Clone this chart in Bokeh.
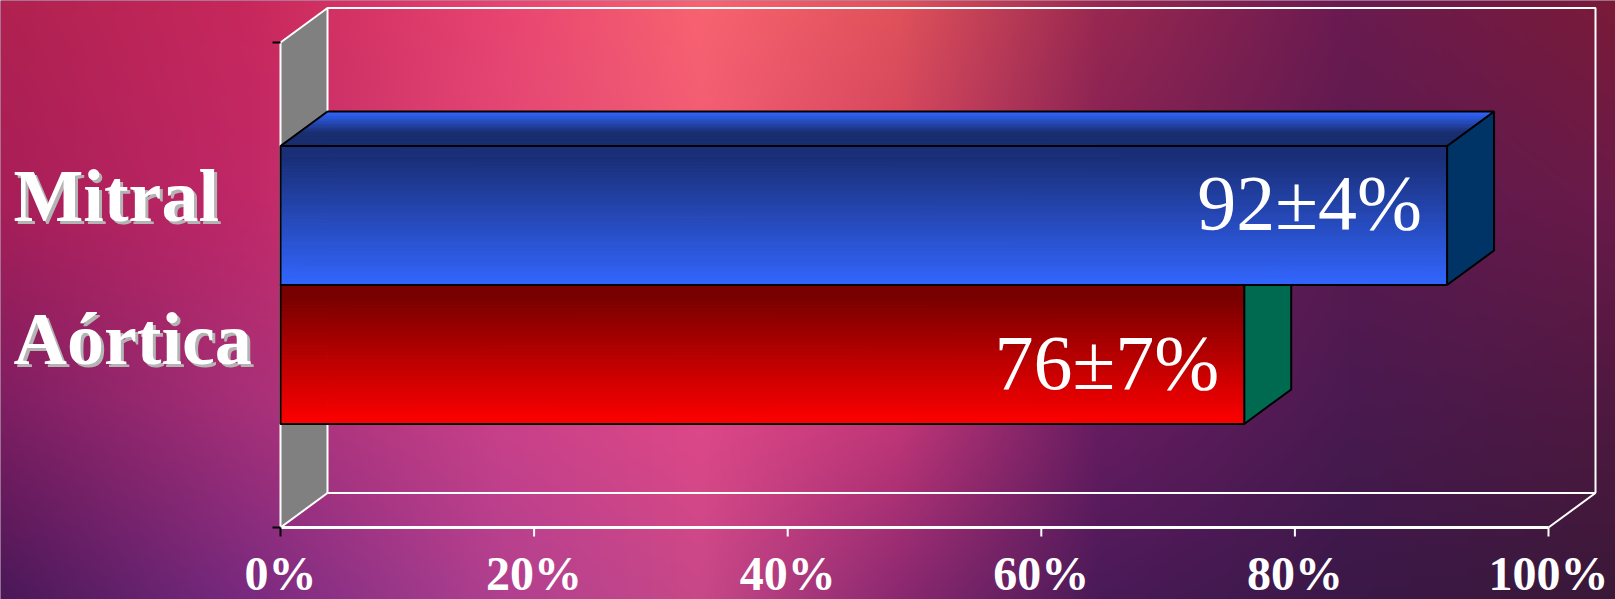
import numpy as np
from bokeh.plotting import figure
from bokeh.models import Range1d
from bokeh.embed import file_html
from bokeh.resources import INLINE
from bokeh.core.properties import value

# ---------------- data ----------------
categories = ["Mitral", "Aórtica"]
values = [92, 76]
value_labels = ["92±4%", "76±7%"]
tick_values = [0, 20, 40, 60, 80, 100]
tick_labels = ["0%", "20%", "40%", "60%", "80%", "100%"]

# ---------------- styles / layout ----------------
W, H = 1615, 599
X0_PX, X100_PX = 280, 1548       # front plane: 0% and 100%
Y0_PX, Y1_PX = 527, 42           # front plane: floor and top
SX = (X100_PX - X0_PX) / 100.0   # px per %
SY = float(Y0_PX - Y1_PX)        # px per y unit
x_start, x_end = -X0_PX / SX, (W - X0_PX) / SX
y_start, y_end = -(H - Y0_PX) / SY, Y0_PX / SY
DX, DY = 47 / SX, 34.5 / SY      # 3D depth offset
BAR_H = 139 / SY
CAT_CENTER = 0.5
BASE_FIX = 0.38                  # baseline correction (em)
TICK_LABEL_PX = 64               # baseline distance below the floor

front_top = ["#1a2f78", "#780000"]
front_bot = ["#3366ff", "#ff0000"]
side_col = ["#003366", "#006a50"]
top_back = ["#1a2f70", "#780000"]
top_front = ["#3366ff", "#ff0000"]
value_dy_px = [17, 38]
cat_dy_px = [9, 13]

FONT = value("Liberation Serif")

def h2r(h):
    return np.array([int(h[i:i + 2], 16) for i in (1, 3, 5)], float)

def mix(c1, c2, t):
    a, b = h2r(c1), h2r(c2)
    c = a + (b - a) * t
    return "#%02x%02x%02x" % tuple(int(round(v)) for v in c)

p = figure(width=W, height=H, x_range=Range1d(x_start, x_end), y_range=Range1d(y_start, y_end),
           output_backend="svg", toolbar_location=None, min_border=0,
           x_axis_location=None, y_axis_location=None, outline_line_color=None,
           background_fill_color="#5a1a50", border_fill_color="#5a1a50")
p.xgrid.visible = False
p.ygrid.visible = False

# ---------------- background gradient ----------------
gx = np.array([0, 250, 500, 700, 900, 1100, 1350, 1615], float)
gy = np.array([0, 200, 400, 599], float)
rows = [
    ["#b02250", "#c8285c", "#e84470", "#f8636f", "#e0525a", "#9a2850", "#6a1a50", "#7a1a38"],
    ["#a81e58", "#c02868", "#e04878", "#f05a78", "#d04060", "#802058", "#5a1a50", "#6a1a48"],
    ["#801e62", "#a83078", "#cc4088", "#e04888", "#c83878", "#6a1c62", "#4a1a50", "#501840"],
    ["#4a1858", "#7a2a80", "#b04090", "#c84888", "#8a2870", "#4a1a58", "#3a1848", "#3a1838"],
]
grid = np.array([[h2r(c) for c in r] for r in rows])
wi, hi = 808, 300
px = np.linspace(0, W, wi)
py = np.linspace(0, H, hi)
tmp = np.stack([np.stack([np.interp(px, gx, grid[r, :, k]) for k in range(3)], -1) for r in range(len(gy))])
img = np.empty((hi, wi, 3))
for k in range(3):
    for i in range(wi):
        img[:, i, k] = np.interp(py, gy, tmp[:, i, k])
img = img[::-1]
rgba = np.empty((hi, wi), dtype=np.uint32)
view = rgba.view(dtype=np.uint8).reshape((hi, wi, 4))
view[:, :, :3] = np.clip(img, 0, 255).astype(np.uint8)
view[:, :, 3] = 255
p.image_rgba(image=[rgba], x=x_start, y=y_start, dw=x_end - x_start, dh=y_end - y_start)

# ---------------- walls / floor ----------------
p.patch([0, DX, DX, 0], [0, DY, 1 + DY, 1], fill_color="#808080", line_color=None)
p.multi_line(
    xs=[[DX, DX, 100 + DX, 100 + DX], [DX, 100 + DX], [100, 100 + DX], [0, DX], [0, DX], [0, 0]],
    ys=[[DY, 1 + DY, 1 + DY, DY], [DY, DY], [0, DY], [0, DY], [1, 1 + DY], [0, 1]],
    line_color="white", line_width=2)
p.line([0, 100], [0, 0], line_color="white", line_width=3)
# ticks
tick_len = 9 / SY
p.segment(x0=tick_values[1:], y0=[0] * 5, x1=tick_values[1:], y1=[-tick_len] * 5, line_color="white", line_width=2)
p.segment(x0=[0, -8 / SX, -8 / SX], y0=[0, 0, 1], x1=[0, 0, 0], y1=[-tick_len, 0, 1], line_color="black", line_width=2)

# ---------------- bars ----------------
N = 60
for idx in [1, 0]:
    v = values[idx]
    b = CAT_CENTER if idx == 0 else CAT_CENTER - BAR_H
    t = b + BAR_H
    # side face
    p.patch([v, v + DX, v + DX, v], [b, b + DY, t + DY, t], fill_color=side_col[idx],
            line_color="black", line_width=2)
    # top face gradient (back dark -> front bright)
    xs, ys, cols = [], [], []
    for k in range(N):
        s0, s1 = k / N, (k + 1) / N
        xs.append([s0 * DX, v + s0 * DX, v + s1 * DX, s1 * DX])
        ys.append([t + s0 * DY, t + s0 * DY, t + s1 * DY, t + s1 * DY])
        tt = min(1.0, (1 - (s0 + s1) / 2) / 0.6)
        cols.append(mix(top_front[idx], top_back[idx], tt))
    p.patches(xs, ys, fill_color=cols, line_color=cols, line_width=1)
    p.patch([0, v, v + DX, DX], [t, t, t + DY, t + DY], fill_color=None, line_color="black", line_width=2)
    # front face gradient (top dark -> bottom bright)
    bots = [b + BAR_H * j / N for j in range(N)]
    tops = [b + BAR_H * (j + 1) / N for j in range(N)]
    fcols = [mix(front_bot[idx], front_top[idx], min(1.0, ((j + 0.5) / N) / 0.92)) for j in range(N)]
    p.quad(left=0, right=v, bottom=bots, top=tops, fill_color=fcols, line_color=fcols, line_width=1)
    p.quad(left=[0], right=[v], bottom=[b], top=[t], fill_color=None, line_color="black", line_width=2)
    # value label
    cy = (b + t) / 2
    p.text(x=[v - 25 / SX], y=[cy - (value_dy_px[idx] - BASE_FIX * 78) / SY], text=[value_labels[idx]],
           text_font=FONT, text_font_size="78px", text_color="white",
           text_align="right", text_baseline="alphabetic")
    # category label with shadow
    lx = (13 - X0_PX) / SX
    ly = cy - (cat_dy_px[idx] - BASE_FIX * 74) / SY
    p.text(x=[lx + 3 / SX], y=[ly - 3 / SY], text=[categories[idx]], text_font=FONT,
           text_font_size="74px", text_font_style="bold", text_color="#b4b4b4",
           text_align="left", text_baseline="alphabetic")
    p.text(x=[lx], y=[ly], text=[categories[idx]], text_font=FONT,
           text_font_size="74px", text_font_style="bold", text_color="white",
           text_align="left", text_baseline="alphabetic")

# ---------------- tick labels ----------------
p.text(x=tick_values, y=[-(TICK_LABEL_PX - BASE_FIX * 48) / SY] * len(tick_values), text=tick_labels,
       text_font=FONT, text_font_size="48px", text_font_style="bold", text_color="white",
       text_align="center", text_baseline="alphabetic")

open("out.html", "w").write(file_html(p, INLINE))
